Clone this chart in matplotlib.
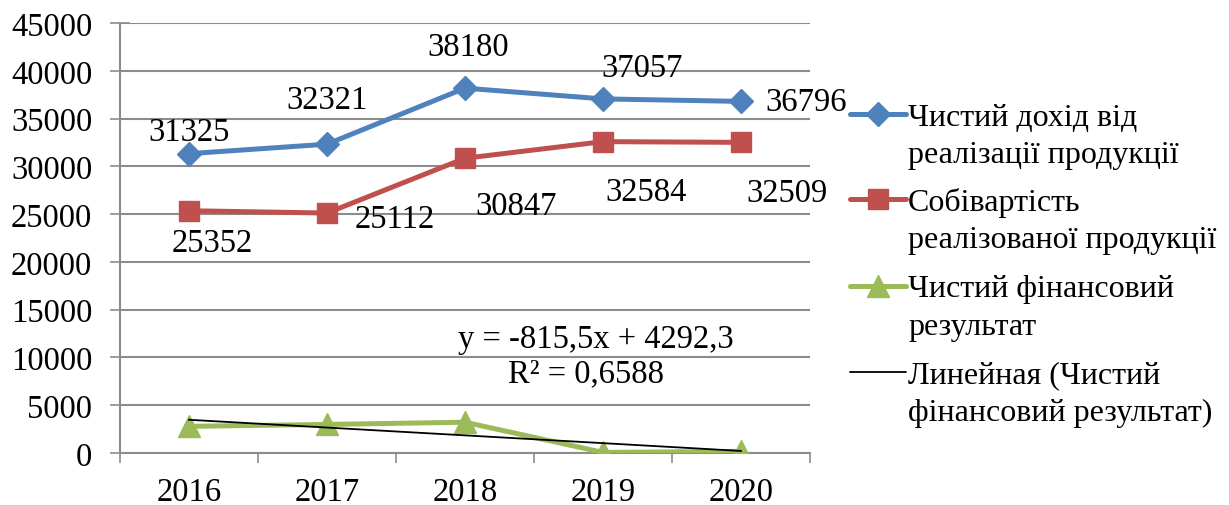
import numpy as np
import matplotlib
matplotlib.use("Agg")
import matplotlib.pyplot as plt
from matplotlib.lines import Line2D

plt.rcParams['font.family'] = ['Liberation Serif', 'DejaVu Serif']

years = ["2016", "2017", "2018", "2019", "2020"]
revenue = [31325, 32321, 38180, 37057, 36796]
cost = [25352, 25112, 30847, 32584, 32509]
net_result = [2790, 2990, 3220, 60, 170]

trend_slope = -815.5
trend_intercept = 4292.3
r_squared = 0.6588

label_revenue = "Чистий дохід від\nреалізації продукції"
label_cost = "Собівартість\nреалізованої продукції"
label_net = "Чистий фінансовий\nрезультат"
label_trend = "Линейная (Чистий\nфінансовий результат)"

c_blue = "#4F81BD"
c_red = "#C0504D"
c_green = "#9BBB59"
grid_c = "#8C8C8C"
fs = 23.5

W, H = 1229, 506
fig = plt.figure(figsize=(W / 100, H / 100), dpi=100)
ax = fig.add_axes([120 / W, 52 / H, 690 / W, 430 / H])

x = np.arange(1, len(years) + 1)

styles = [
    dict(color=c_blue, lw=3.6, marker="D", ms=12),
    dict(color=c_red, lw=3.6, marker="s", ms=15),
    dict(color=c_green, lw=3.6, marker="^", ms=16),
    dict(color="black", lw=1.3),
]

ax.plot(x, revenue, zorder=4, **styles[0])
ax.plot(x, cost, zorder=4, **styles[1])
ax.plot(x, net_result, zorder=4, **styles[2])
ax.plot(x, trend_slope * x + trend_intercept, zorder=5, **styles[3])

ax.set_xlim(0.5, 5.5)
ax.set_ylim(0, 45000)
ax.set_yticks(np.arange(0, 45001, 5000))
ax.set_xticks(x)
ax.set_xticklabels(years)
ax.set_xticks(np.arange(0.5, 5.6, 1), minor=True)
ax.tick_params(axis="x", which="major", length=0, pad=17, labelsize=fs)
ax.tick_params(axis="x", which="minor", length=7, width=1.2, color=grid_c, direction="out")
ax.tick_params(axis="y", length=14, width=1.2, color=grid_c, direction="inout", labelsize=fs, pad=13)
ax.yaxis.grid(True, color=grid_c, lw=1.5)
ax.set_axisbelow(True)
for s in ("top", "right"):
    ax.spines[s].set_visible(False)
for s in ("left", "bottom"):
    ax.spines[s].set_color(grid_c)
    ax.spines[s].set_linewidth(1.5)

# value labels, offsets in data units
rev_off = [(0.0, 2300), (0.0, 4600), (0.02, 4300), (0.28, 3300), (0.47, 0)]
cost_off = [(0.17, -3300), (0.49, -600), (0.37, -5000), (0.31, -5200), (0.33, -5300)]
for xi, v, (dx, dy) in zip(x, revenue, rev_off):
    ax.text(xi + dx, v + dy, f"{v}", ha="center", va="center", fontsize=fs, clip_on=False)
for xi, v, (dx, dy) in zip(x, cost, cost_off):
    ax.text(xi + dx, v + dy, f"{v}", ha="center", va="center", fontsize=fs, clip_on=False)

ax.text(3.95, 12000, f"y = {trend_slope:.1f}x + {trend_intercept:.1f}".replace(".", ","),
        ha="center", va="center", fontsize=fs)
ax.text(3.88, 8400, f"R² = {r_squared:.4f}".replace(".", ","),
        ha="center", va="center", fontsize=fs)

# legend: handle on the first text line, wrapped labels beneath
labels = [label_revenue, label_cost, label_net, label_trend]
entry_y = [115, 200, 287, 373]
line_step = 37.5
for st, lab, ey in zip(styles, labels, entry_y):
    yf = 1 - ey / H
    line_kw = {k: v for k, v in st.items() if k not in ("marker", "ms")}
    fig.add_artist(Line2D([850 / W, 906 / W], [yf, yf], transform=fig.transFigure,
                          solid_capstyle="round", **line_kw))
    if "marker" in st:
        fig.add_artist(Line2D([878 / W], [yf], transform=fig.transFigure, ls="none",
                              color=st["color"], marker=st["marker"], ms=st["ms"]))
    for i, part in enumerate(lab.split("\n")):
        fig.text(908 / W, 1 - (ey + 3 + i * line_step) / H, part, fontsize=23,
                 ha="left", va="center")

fig.savefig("out.png", dpi=100)
